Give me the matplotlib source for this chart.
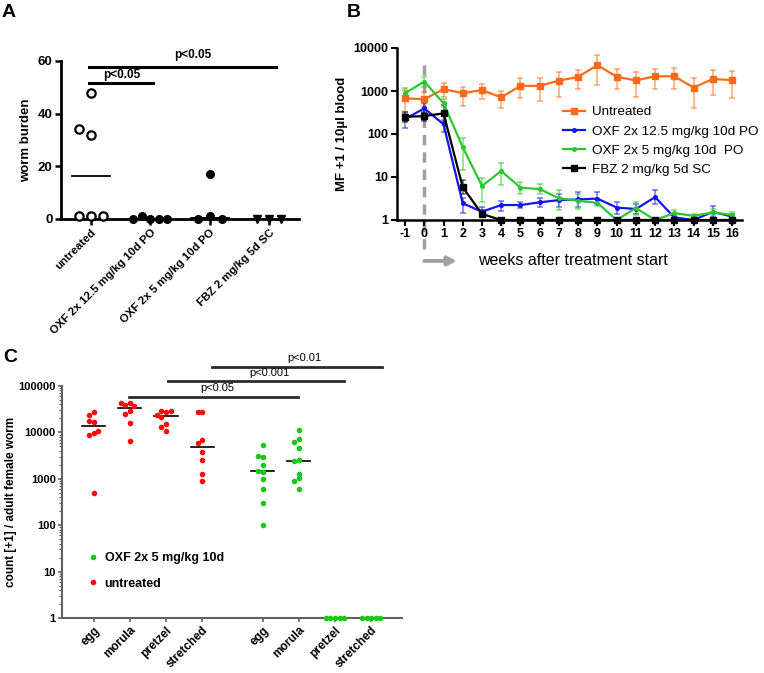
import numpy as np
import matplotlib.pyplot as plt
import matplotlib.transforms as mtransforms
from matplotlib.colors import to_rgba
from matplotlib.lines import Line2D

plt.rcParams['font.family'] = ['Liberation Sans', 'DejaVu Sans']

# --- Panel A: worm burden ---
a_groups = ['untreated', 'OXF 2x 12.5 mg/kg 10d PO', 'OXF 2x 5 mg/kg 10d PO', 'FBZ 2 mg/kg 5d SC']
a_untreated = [48, 32, 34, 1, 1, 1]
a_oxf125 = [0, 1, 0, 0, 0]
a_oxf5 = [17, 1, 0, 0]
a_fbz = [0, 0, 0]
a_pvals = ['p<0.05', 'p<0.05']

# --- Panel B: microfilariae over time ---
weeks = [-1, 0, 1, 2, 3, 4, 5, 6, 7, 8, 9, 10, 11, 12, 13, 14, 15, 16]
b_labels = ['Untreated', 'OXF 2x 12.5 mg/kg 10d PO', 'OXF 2x 5 mg/kg 10d  PO', 'FBZ 2 mg/kg 5d SC']
untr_mean = [676, 640, 1110, 890, 1050, 710, 1320, 1320, 1740, 2130, 4000, 2150, 1760, 2200, 2200, 1200, 1900, 1800]
untr_hi = [1050, 960, 1560, 1260, 1450, 1000, 1990, 1990, 2710, 3160, 6790, 3270, 2840, 3270, 3400, 2000, 3000, 2900]
untr_lo = [330, 430, 740, 455, 640, 395, 676, 595, 710, 1130, 1350, 1130, 740, 1130, 1130, 400, 810, 700]
oxf125_mean = [224, 395, 168, 2.44, 1.56, 2.23, 2.23, 2.58, 2.9, 3.0, 3.15, 1.95, 1.8, 3.4, 1.15, 1.0, 1.55, 1.2]
oxf125_hi = [293, 520, 212, 3.2, 1.97, 2.81, 2.63, 3.2, 4.0, 4.4, 4.4, 2.6, 2.4, 4.9, 1.3, 1.0, 2.1, 1.4]
oxf125_lo = [135, 314, 113, 1.48, 1.26, 1.65, 1.87, 2.04, 2.0, 2.0, 2.4, 1.4, 1.4, 2.3, 1.0, 1.0, 1.2, 1.0]
oxf5_mean = [890, 1660, 520, 49, 6.2, 13.8, 5.64, 5.25, 3.2, 2.8, 2.5, 1.0, 1.9, 1.0, 1.45, 1.25, 1.5, 1.3]
oxf5_hi = [1150, 2150, 650, 82, 9.3, 20.9, 7.8, 6.9, 5.0, 4.0, 3.0, 1.0, 2.6, 1.0, 1.7, 1.4, 1.8, 1.5]
oxf5_lo = [676, 1260, 430, 14.5, 2.66, 6.5, 4.0, 4.0, 1.7, 1.8, 2.1, 1.0, 1.3, 1.0, 1.2, 1.1, 1.3, 1.1]
fbz_mean = [252, 260, 303, 5.76, 1.38, 1, 1, 1, 1, 1, 1, 1, 1, 1, 1, 1, 1, 1]
fbz_hi = [330, 330, 470, 8.5, 1.7, 1, 1, 1, 1, 1, 1, 1, 1, 1, 1, 1, 1, 1]
fbz_lo = [194, 200, 194, 4.0, 1.19, 1, 1, 1, 1, 1, 1, 1, 1, 1, 1, 1, 1, 1]

# --- Panel C: embryo stages per female worm ---
c_stages = ['egg', 'morula', 'pretzel', 'stretched', 'egg', 'morula', 'pretzel', 'stretched']
red_egg = [27000, 23500, 16500, 17500, 9800, 9000, 10700, 500]
red_morula = [43600, 39000, 37000, 42500, 29000, 24500, 16000, 6600]
red_pretzel = [27000, 29000, 28500, 22000, 24000, 15000, 13000, 10700]
red_stretched = [27000, 27000, 6900, 6000, 3700, 2500, 1300, 910]
green_egg = [5300, 2960, 3150, 1940, 1420, 1490, 1000, 600, 300, 100]
green_morula = [11200, 7100, 6100, 4650, 2530, 2400, 1300, 1020, 910, 600]
green_pretzel = [1, 1, 1, 1, 1]
green_stretched = [1, 1, 1, 1, 1]
c_pvals = ['p<0.05', 'p<0.001', 'p<0.01']
c_pline_y = [59000, 127000, 260000]


def swarm(ax, xc, vals, d):
    """spread points sideways (display px) so markers don't overlap"""
    ys = ax.transData.transform(np.column_stack([np.full(len(vals), xc), vals]))[:, 1]
    cands = [0] + [s * i for i in range(1, 30) for s in (-1, 1)]
    placed = []
    for y in ys:
        for c in cands:
            if all((c * d - px) ** 2 + (y - py) ** 2 >= d * d - 1e-6 for px, py in placed):
                break
        placed.append((c * d, y))
    unit = ax.transData.transform((1, 1))[0] - ax.transData.transform((0, 1))[0]
    return xc + np.array([p[0] for p in placed]) / unit


W, H = 764, 673
fig = plt.figure(figsize=(W / 100, H / 100), dpi=100)


def px_axes(l, r, b, t):
    return fig.add_axes([l / W, 1 - b / H, (r - l) / W, (b - t) / H])


# ================= A =================
axA = px_axes(61, 299, 219, 61)
axA.set_xlim(-0.5, 3.5)
axA.set_ylim(0, 60)
a_data = [a_untreated, a_oxf125, a_oxf5, a_fbz]
a_spread = [12, 8.5, 12, 12]
a_style = [dict(marker='o', mfc='white', mec='black', mew=1.6, ms=6),
           dict(marker='o', mfc='black', mec='black', ms=5.5),
           dict(marker='o', mfc='black', mec='black', ms=5.5),
           dict(marker='v', mfc='black', mec='black', ms=5.5)]
for i, vals in enumerate(a_data):
    xs = swarm(axA, i, vals, a_spread[i])
    axA.plot(xs, vals, ls='none', clip_on=False, zorder=3, **a_style[i])
    m = np.median(vals)
    axA.plot([i - 0.32, i + 0.32], [m, m], color='black', lw=1.3, zorder=2, clip_on=False)

axA.plot([-0.03, 1.04], [51.5, 51.5], color='black', lw=2.2, clip_on=False)
axA.annotate(a_pvals[0], (0.52, 51.5), xytext=(0, 1.5), textcoords='offset points',
             ha='center', va='bottom', fontsize=8.5, fontweight='bold')
axA.plot([-0.03, 3.12], [57.8, 57.8], color='black', lw=2.2, clip_on=False)
axA.annotate(a_pvals[1], (1.72, 57.8), xytext=(0, 4.5), textcoords='offset points',
             ha='center', va='bottom', fontsize=8.5, fontweight='bold')

axA.set_xticks(range(4))
axA.set_xticklabels(a_groups, rotation=45, ha='right', rotation_mode='anchor',
                    fontsize=8.2, fontweight='bold')
axA.set_yticks([0, 20, 40, 60])
axA.set_yticklabels(['0', '20', '40', '60'], fontsize=9.5, fontweight='bold')
axA.set_ylabel('worm burden', fontsize=9.5, fontweight='bold', labelpad=4)
for s in ['top', 'right']:
    axA.spines[s].set_visible(False)
for s in ['left', 'bottom']:
    axA.spines[s].set_linewidth(2)
axA.tick_params(width=1.8, length=4, pad=2)

# ================= B =================
axB = px_axes(397, 742, 220, 48)
axB.set_yscale('log')
axB.set_xlim(-1.42, 16.52)
axB.set_ylim(1, 10000)

b_series = [(untr_mean, untr_lo, untr_hi, '#FF6A1A', 's', 4.2),
            (oxf125_mean, oxf125_lo, oxf125_hi, '#1414F0', 'o', 2.6),
            (oxf5_mean, oxf5_lo, oxf5_hi, '#2BC82B', 'o', 2.6),
            (fbz_mean, fbz_lo, fbz_hi, 'black', 's', 3.8)]
handles = []
for (mean, lo, hi, col, mk, ms), lab in zip(b_series, b_labels):
    mean = np.array(mean, float)
    err = [mean - np.array(lo), np.array(hi) - mean]
    axB.errorbar(weeks, mean, yerr=err, color=col, ecolor=to_rgba(col, 0.55),
                 elinewidth=1.2, capsize=2.5, capthick=1.2, lw=1.6,
                 marker=mk, ms=ms, clip_on=False, zorder=3)
    handles.append(Line2D([], [], color=col, lw=1.6, marker=mk, ms=ms))

axB.legend(handles, b_labels, loc='upper left', bbox_to_anchor=(563 / W, 1 - 106 / H),
           bbox_transform=fig.transFigure, frameon=False, fontsize=9.7,
           handlelength=1.6, handletextpad=0.55, labelspacing=0.5,
           borderpad=0, borderaxespad=0, numpoints=1)

trB = mtransforms.blended_transform_factory(axB.transData, axB.transAxes)
axB.plot([0, 0], [-0.17, 0.91], transform=trB, color='#a0a0a0', lw=2.5,
         ls=(0, (3, 2)), clip_on=False, zorder=1)
axB.annotate('', xy=(1.7, -0.238), xytext=(0, -0.238), xycoords=trB,
             arrowprops=dict(arrowstyle='-|>', color='#a0a0a0', lw=2.8,
                             mutation_scale=13, shrinkA=0, shrinkB=0))
axB.text(2.79, -0.238, 'weeks after treatment start', transform=trB,
         ha='left', va='center', fontsize=11.5)

axB.set_xticks(weeks)
axB.set_xticklabels([str(w) for w in weeks], fontsize=9, fontweight='bold')
axB.set_yticks([1, 10, 100, 1000, 10000])
axB.set_yticklabels(['1', '10', '100', '1000', '10000'], fontsize=9, fontweight='bold')
axB.yaxis.set_minor_locator(plt.NullLocator())
axB.set_ylabel('MF +1 / 10\u00b5l blood', fontsize=9.5, fontweight='bold', labelpad=4)
for s in ['top', 'right']:
    axB.spines[s].set_visible(False)
for s in ['left', 'bottom']:
    axB.spines[s].set_linewidth(1.8)
axB.tick_params(width=1.5, length=4, pad=2)

# ================= C =================
axC = px_axes(62, 402, 618, 386)
axC.set_yscale('log')
axC.set_xlim(-0.87, 8.52)
axC.set_ylim(1, 100000)
c_pos = [0, 1, 2, 3, 4.67, 5.67, 6.67, 7.67]
c_data = [red_egg, red_morula, red_pretzel, red_stretched,
          green_egg, green_morula, green_pretzel, green_stretched]
red, green = '#FF0A0A', '#19C819'
c_cols = [red] * 4 + [green] * 4
for x, vals, col in zip(c_pos, c_data, c_cols):
    xs = swarm(axC, x, vals, 4.6)
    axC.plot(xs, vals, ls='none', marker='o', ms=3, mfc=col, mec=col, clip_on=False, zorder=3)
    m = np.median(vals)
    if m > 1:
        axC.plot([x - 0.32, x + 0.32], [m, m], color='black', lw=1.2, zorder=2)

c_lines = [(0.98, 5.65, 3.43), (2.05, 6.92, 4.87), (3.27, 7.97, 5.81)]
for (x1, x2, xt), y, txt in zip(c_lines, c_pline_y, c_pvals):
    axC.plot([x1, x2], [y, y], color='#2a2a2a', lw=2, clip_on=False)
    axC.annotate(txt, (xt, y), xytext=(0, 2.5), textcoords='offset points',
                 ha='center', va='bottom', fontsize=8, annotation_clip=False)

c_handles = [Line2D([], [], ls='none', marker='o', ms=3, color=green),
             Line2D([], [], ls='none', marker='o', ms=3, color=red)]
axC.legend(c_handles, ['OXF 2x 5 mg/kg 10d', 'untreated'], loc='upper left',
           bbox_to_anchor=(87.7 / W, 1 - 552 / H), bbox_transform=fig.transFigure,
           frameon=False, prop=dict(size=9, weight='bold'), handlelength=0.8,
           handletextpad=0.55, labelspacing=1.1, borderpad=0, borderaxespad=0)

axC.set_xticks(c_pos)
axC.set_xticklabels(c_stages, rotation=45, ha='right', rotation_mode='anchor',
                    fontsize=8.5, fontweight='bold')
axC.set_yticks([1, 10, 100, 1000, 10000, 100000])
axC.set_yticklabels(['1', '10', '100', '1000', '10000', '100000'], fontsize=8, fontweight='bold')
axC.set_ylabel('count [+1] / adult female worm', fontsize=8.5, fontweight='bold', labelpad=1)
for s in ['top', 'right']:
    axC.spines[s].set_visible(False)
for s in ['left', 'bottom']:
    axC.spines[s].set_linewidth(1.5)
    axC.spines[s].set_color('#606060')
axC.tick_params(which='major', width=1.2, length=3, color='#606060', pad=1.5)
axC.tick_params(which='minor', width=0.8, length=2, color='#606060')
axC.xaxis.set_minor_locator(plt.NullLocator())

# panel letters
fig.text(2 / W, 1 - 17 / H, 'A', fontsize=14, fontweight='bold', va='baseline')
fig.text(347 / W, 1 - 17 / H, 'B', fontsize=14, fontweight='bold', va='baseline')
fig.text(3 / W, 1 - 362 / H, 'C', fontsize=14, fontweight='bold', va='baseline')

fig.savefig('out.png', dpi=100)
